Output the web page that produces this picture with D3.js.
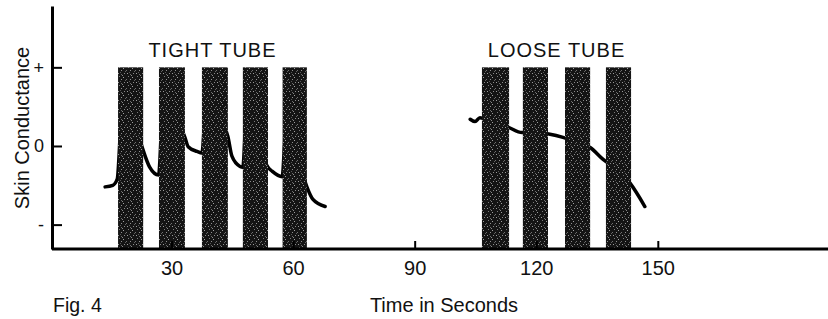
<!DOCTYPE html>
<html>
<head>
<meta charset="utf-8">
<script src="https://cdn.jsdelivr.net/npm/d3@7"></script>
<style>
  body { margin: 0; background: #fff; }
  text { font-family: "Liberation Sans", Arial, sans-serif; fill: #111; }
</style>
</head>
<body>
<script>
// stimulus periods (seconds)
var tightBars = [[16.8, 23.0], [26.9, 33.3], [37.5, 43.9], [47.6, 53.8], [57.4, 63.4]];
var looseBars = [[106.6, 113.3], [116.7, 122.9], [127.1, 133.3], [137.2, 143.4]];

// skin conductance trace, [time, value]
var tightTrace = [[13.6, -0.52], [15.5, -0.50], [16.6, -0.42], [17.4, 0.2], [18.3, 0.75], [20.5, 0.4],
  [22.9, -0.04], [24.6, -0.27], [26.8, -0.37], [27.6, 0.3], [28.3, 0.7], [30.5, 0.45], [33.3, 0.11],
  [34.1, -0.01], [36.3, -0.07], [37.5, -0.09], [38.2, 0.35], [38.8, 0.6], [41, 0.4], [43.9, 0.12],
  [44.9, -0.13], [46.9, -0.26], [47.6, -0.27], [48.2, 0.2], [48.6, 0.42], [51, 0.1], [53.8, -0.27],
  [54.8, -0.32], [57.3, -0.39], [58, 0.1], [58.6, 0.32], [61, -0.1], [63.4, -0.52], [64.9, -0.68], [67.9, -0.77]];
var looseTrace = [[103.7, 0.34], [104.9, 0.31], [106.1, 0.36], [109, 0.3], [113.0, 0.24], [116.5, 0.17],
  [120, 0.17], [123.4, 0.15], [126.6, 0.11], [130, 0.05], [133.3, -0.02], [136.5, -0.17], [140, -0.3],
  [143.1, -0.47], [146.8, -0.77]];

var xTicks = [30, 60, 90, 120, 150];
var yTicks = [-1, 0, 1];
var yTickLabels = { "-1": "-", "0": "0", "1": "+" };

var width = 828, height = 319;

var svg = d3.select('body').append('svg').attr('width', width).attr('height', height);

var x = d3.scaleLinear().domain([0.5, 192]).range([52, 828]);
var y = d3.scaleLinear().domain([-1.31, 1.78]).range([249, 6]);

// stipple texture for the bars
var pat = svg.append('defs').append('pattern')
  .attr('id', 'stipple').attr('patternUnits', 'userSpaceOnUse')
  .attr('width', 9).attr('height', 9);
pat.append('rect').attr('width', 9).attr('height', 9).attr('fill', '#141414');
[[1, 1, '#9a9a9a'], [4, 2, '#6a6a6a'], [7, 1, '#8a8a8a'], [2, 4, '#7a7a7a'], [6, 5, '#a0a0a0'],
 [0, 7, '#707070'], [4, 7, '#909090'], [8, 8, '#606060'], [3, 0, '#555'], [5, 3, '#888']].forEach(function (p) {
  pat.append('rect').attr('x', p[0]).attr('y', p[1]).attr('width', 1).attr('height', 1).attr('fill', p[2]);
});

var line = d3.line()
  .x(function (d) { return x(d[0]); })
  .y(function (d) { return y(d[1]); })
  .curve(d3.curveMonotoneX);

svg.selectAll('path.trace')
  .data([tightTrace, looseTrace])
  .enter().append('path')
  .attr('class', 'trace')
  .attr('d', line)
  .attr('fill', 'none')
  .attr('stroke', '#000')
  .attr('stroke-width', 3.5)
  .attr('stroke-linecap', 'round');

svg.selectAll('rect.bar')
  .data(tightBars.concat(looseBars))
  .enter().append('rect')
  .attr('class', 'bar')
  .attr('x', function (d) { return x(d[0]); })
  .attr('width', function (d) { return x(d[1]) - x(d[0]); })
  .attr('y', y(1))
  .attr('height', y(-1.31) - y(1))
  .attr('fill', 'url(#stipple)');

// axes
var xAxis = d3.axisBottom(x).tickValues(xTicks).tickSize(-8).tickSizeOuter(0).tickPadding(12);
var yAxis = d3.axisLeft(y).tickValues(yTicks).tickSize(-10).tickSizeOuter(0).tickPadding(8)
  .tickFormat(function (d) { return yTickLabels[d]; });

var gx = svg.append('g').attr('transform', 'translate(0,' + y(-1.31) + ')').call(xAxis);
var gy = svg.append('g').attr('transform', 'translate(' + x(0.5) + ',0)').call(yAxis);

[gx, gy].forEach(function (g) {
  g.select('.domain').attr('stroke', '#000').attr('stroke-width', 3);
  g.selectAll('.tick line').attr('stroke', '#000').attr('stroke-width', 2);
  g.selectAll('.tick text').attr('font-size', 20).attr('font-family', '"Liberation Sans", Arial, sans-serif').attr('fill', '#111');
});
gy.selectAll('.tick text').attr('font-size', 18);
gx.select('.domain').attr('d', 'M52,0H828');

// group labels
svg.append('text').attr('x', x((tightBars[0][0] + tightBars[4][1]) / 2)).attr('y', y(1) - 10)
  .attr('text-anchor', 'middle').attr('font-size', 20).attr('letter-spacing', 1).text('TIGHT TUBE');
svg.append('text').attr('x', x((looseBars[0][0] + looseBars[3][1]) / 2)).attr('y', y(1) - 10)
  .attr('text-anchor', 'middle').attr('font-size', 20).attr('letter-spacing', 1).text('LOOSE TUBE');

svg.append('text').attr('transform', 'translate(29,128) rotate(-90)')
  .attr('text-anchor', 'middle').attr('font-size', 20).text('Skin Conductance');

svg.append('text').attr('x', 444).attr('y', 312).attr('text-anchor', 'middle').attr('font-size', 20).text('Time in Seconds');
svg.append('text').attr('x', 53).attr('y', 312).attr('font-size', 19.5).text('Fig. 4');
</script>
</body>
</html>
